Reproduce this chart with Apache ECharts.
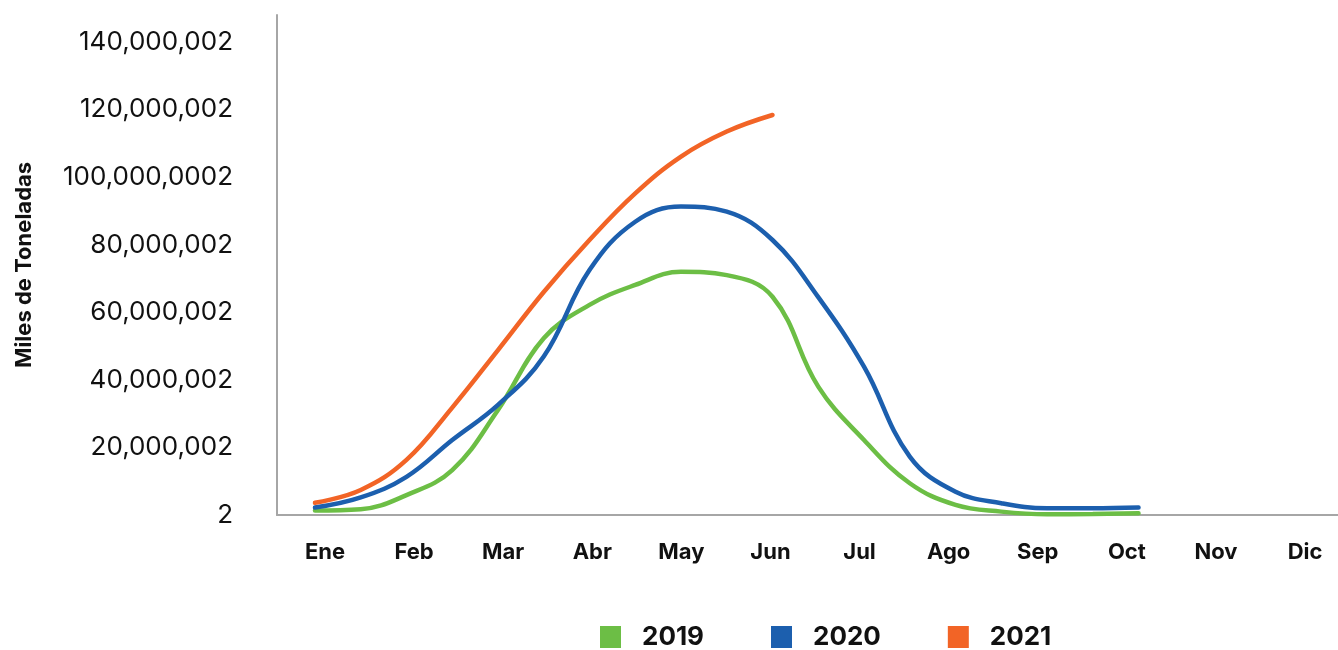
<!DOCTYPE html>
<html>
<head>
<meta charset="utf-8">
<script src="https://cdn.jsdelivr.net/npm/echarts@6/dist/echarts.min.js"></script>
<style>
html,body{margin:0;padding:0;background:#fff;}
#chart{width:1338px;height:650px;}
</style>
</head>
<body>
<div id="chart"></div>
<script>
// Month labels
const months = ['Ene','Feb','Mar','Abr','May','Jun','Jul','Ago','Sep','Oct','Nov','Dic'];
// Y tick labels (as printed in the original)
const yTickLabels = ['2','20,000,002','40,000,002','60,000,002','80,000,002','100,000,0002','120,000,002','140,000,002'];
// Sample positions in months (0 = Ene), half-month steps
const xPos = [0,0.5,1,1.5,2,2.5,3,3.5,4,4.5,5,5.5,6,6.5,7,7.5,8,8.5,9];
// Values in millions of tonnes
const s2019 = [1.3,1.7,5.9,13.3,31.1,52.3,62.2,68.1,72.0,71.0,64.6,38.0,22.2,9.4,3.0,1.0,0.2,0.3,0.5];
const s2020 = [2.2,5.2,11.3,22.2,32.6,46.9,72.5,86.8,91.3,89.8,81.4,64.5,43.9,17.3,6.9,3.5,2.0,2.0,2.2];
const s2021 = [3.6,7.4,16.3,31.8,48.8,66.0,81.4,95.2,106.1,113.5,118.4];
const seriesNames = ['2019','2020','2021'];
const colors = ['#6CBE45','#1C5FAE','#F26426'];

function pairs(vals){ return vals.map((v,i)=>[xPos[i], v]); }

const chart = echarts.init(document.getElementById('chart'));
const font = 'Inter, Roboto, sans-serif';
chart.setOption({
  animation:false,
  color: colors,
  grid:{left:277, right:0, top:15, bottom:135},
  legend:{
    data: seriesNames,
    left: 600, top: 624, padding:0,
    icon:'rect', itemWidth:21, itemHeight:22, itemGap:67,
    textStyle:{fontSize:26, fontWeight:'bold', color:'#111', fontFamily:font, padding:[0,0,0,16]}
  },
  xAxis:[{
    type:'value', min:-0.415, max:11.18,
    axisLine:{show:false}, axisTick:{show:false}, axisLabel:{show:false}, splitLine:{show:false}
  },{
    type:'value', min:-0.539, max:11.37, position:'bottom',
    axisLine:{show:true, onZero:false, lineStyle:{color:'#a6a6a6', width:2}},
    axisTick:{show:false}, splitLine:{show:false},
    axisLabel:{
      customValues:[0,1,2,3,4,5,6,7,8,9,10,11],
      formatter:(v)=>months[Math.round(v)],
      fontSize:22, fontWeight:'bold', color:'#111', fontFamily:font, margin:26
    }
  }],
  yAxis:{
    type:'value', min:0, max:148, interval:20,
    name:'Miles de Toneladas', nameLocation:'middle', nameGap:242,
    nameTextStyle:{fontSize:22, fontWeight:'bold', color:'#111', fontFamily:font},
    axisLine:{show:true, onZero:false, lineStyle:{color:'#a6a6a6', width:2}},
    axisTick:{show:false}, splitLine:{show:false},
    axisLabel:{
      showMaxLabel:false,
      formatter:(v)=> (Math.abs(v/20-Math.round(v/20))<1e-6 ? yTickLabels[Math.round(v/20)] : ''),
      fontSize:26, color:'#111', fontFamily:font, margin:44
    }
  },
  series: [s2019,s2020,s2021].map((d,i)=>({
    name: seriesNames[i], type:'line', xAxisIndex:0, data: pairs(d),
    smooth:0.4, showSymbol:false, symbol:'none',
    lineStyle:{width:4.5, color:colors[i], cap:'round'}
  }))
});
</script>
</body>
</html>
